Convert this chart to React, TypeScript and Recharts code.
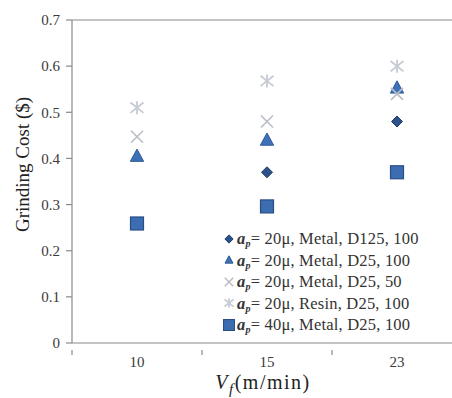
import {
  ScatterChart,
  Scatter,
  XAxis,
  YAxis,
  ReferenceLine,
  Label,
} from 'recharts';

const speeds = ['10', '15', '23'];
const yTicks = [0, 0.1, 0.2, 0.3, 0.4, 0.5, 0.6, 0.7];

const d125Metal100 = [0.26, 0.37, 0.48];
const d25Metal100 = [0.405, 0.44, 0.553];
const d25Metal50 = [0.447, 0.48, 0.54];
const d25Resin100 = [0.51, 0.568, 0.6];
const ap40Metal100 = [0.259, 0.296, 0.37];

const seriesNames = [
  ['20μ', 'Metal', 'D125', '100'],
  ['20μ', 'Metal', 'D25', '100'],
  ['20μ', 'Metal', 'D25', '50'],
  ['20μ', 'Resin', 'D25', '100'],
  ['40μ', 'Metal', 'D25', '100'],
];

const FONT = '"Liberation Serif", "Times New Roman", serif';
const AXIS = '#8a8a8a';
const TEXT = '#3a3a3a';

const toPoints = (vals: number[]) =>
  vals.map((v, i) => ({ x: i + 0.5, y: v }));

type ShapeProps = { cx?: number; cy?: number; k?: number };

function Diamond({ cx = 0, cy = 0, k = 1 }: ShapeProps) {
  const r = 5.5 * k;
  return (
    <path
      d={`M${cx},${cy - r}L${cx + r},${cy}L${cx},${cy + r}L${cx - r},${cy}Z`}
      fill="#2d5189"
      stroke="#1f3c6a"
      strokeWidth={1}
    />
  );
}

function Triangle({ cx = 0, cy = 0, k = 1 }: ShapeProps) {
  const r = 7 * k;
  return (
    <path
      d={`M${cx},${cy - r}L${cx + r * 0.95},${cy + r * 0.75}L${cx - r * 0.95},${cy + r * 0.75}Z`}
      fill="#3d72b8"
      stroke="#2d5a98"
      strokeWidth={1}
    />
  );
}

function Cross({ cx = 0, cy = 0, k = 1 }: ShapeProps) {
  const r = 6 * k;
  return (
    <g stroke="#b9bdc6" strokeWidth={1.6}>
      <line x1={cx - r} y1={cy - r} x2={cx + r} y2={cy + r} />
      <line x1={cx - r} y1={cy + r} x2={cx + r} y2={cy - r} />
    </g>
  );
}

function Asterisk({ cx = 0, cy = 0, k = 1 }: ShapeProps) {
  const r = 6.5 * k;
  return (
    <g stroke="#c6cad4" strokeWidth={1.8}>
      <line x1={cx - r} y1={cy - r * 0.8} x2={cx + r} y2={cy + r * 0.8} />
      <line x1={cx - r} y1={cy + r * 0.8} x2={cx + r} y2={cy - r * 0.8} />
      <line x1={cx} y1={cy - r} x2={cx} y2={cy + r} />
    </g>
  );
}

function Square({ cx = 0, cy = 0, k = 1 }: ShapeProps) {
  const r = 6.5 * k;
  return (
    <rect
      x={cx - r}
      y={cy - r}
      width={r * 2}
      height={r * 2}
      fill="#3c6db0"
      stroke="#2a4e86"
      strokeWidth={1.2}
    />
  );
}

const markers = [Diamond, Triangle, Cross, Asterisk, Square];
const legendScale = [0.75, 0.6, 0.7, 0.7, 0.85];

function XTick(props: any) {
  const { x, y, payload } = props;
  const v = payload.value as number;
  if (Number.isInteger(v)) {
    return <line x1={x} y1={y - 1} x2={x} y2={y + 4} stroke={AXIS} strokeWidth={1.2} />;
  }
  return (
    <text x={x} y={y + 16} textAnchor="middle" fontSize={15} fontFamily={FONT} fill={TEXT}>
      {speeds[Math.floor(v)]}
    </text>
  );
}

function XLabel(props: any) {
  const vb = props.viewBox;
  const cx = vb.x + vb.width / 2 - 4;
  return (
    <text
      x={cx}
      y={vb.y + 46}
      textAnchor="middle"
      fontSize={20}
      letterSpacing={1.5}
      fontFamily={FONT}
      fill="#222"
    >
      <tspan fontStyle="italic">V</tspan>
      <tspan fontStyle="italic" fontSize={15} dy={5}>f</tspan>
      <tspan dy={-5}>(m/min)</tspan>
    </text>
  );
}

function YLabel(props: any) {
  const vb = props.viewBox;
  const x = 22;
  const y = vb.y + vb.height / 2 - 17;
  return (
    <text
      x={x}
      y={y}
      transform={`rotate(-90 ${x} ${y})`}
      textAnchor="middle"
      dominantBaseline="central"
      fontSize={19}
      fontFamily={FONT}
      fill="#222"
    >
      Grinding Cost ($)
    </text>
  );
}

function LegendBox() {
  return (
    <div
      style={{
        position: 'absolute',
        left: 223,
        top: 228,
        fontFamily: FONT,
        fontSize: 16.5,
        letterSpacing: 0.2,
        color: '#333',
      }}
    >
      {seriesNames.map((n, i) => {
        const M = markers[i];
        return (
          <div
            key={i}
            style={{
              display: 'flex',
              alignItems: 'center',
              whiteSpace: 'nowrap',
              height: 21.5,
              lineHeight: '21.5px',
            }}
          >
            <svg width={12} height={12} style={{ marginRight: 2 }}>
              <M cx={6} cy={6} k={legendScale[i]} />
            </svg>
            <span>
              <b><i>a</i></b>
              <sub
                style={{
                  fontSize: 10,
                  fontStyle: 'italic',
                  fontWeight: 'bold',
                  lineHeight: 0,
                  verticalAlign: '-3px',
                }}
              >
                p
              </sub>
              {`= ${n[0]}, ${n[1]}, ${n[2]}, ${n[3]}`}
            </span>
          </div>
        );
      })}
    </div>
  );
}

export default function App() {
  const all = [d125Metal100, d25Metal100, d25Metal50, d25Resin100, ap40Metal100];
  return (
    <div
      style={{
        position: 'absolute',
        left: 0,
        top: 0,
        width: 452,
        height: 398,
        overflow: 'hidden',
        background: '#fff',
      }}
    >
      <ScatterChart width={470} height={398} margin={{ top: 20, right: 8, bottom: 0, left: 0 }}>
        <XAxis
          type="number"
          dataKey="x"
          domain={[0, 3]}
          ticks={[0, 0.5, 1, 1.5, 2, 2.5, 3]}
          tick={<XTick />}
          tickLine={false}
          height={55}
          stroke={AXIS}
          strokeWidth={1.2}
        >
          <Label content={<XLabel />} />
        </XAxis>
        <YAxis
          type="number"
          dataKey="y"
          domain={[0, 0.7]}
          ticks={yTicks}
          width={72}
          tickSize={6}
          tickMargin={6}
          tickFormatter={(v: number) => (v === 0 ? '0' : v.toFixed(1))}
          tick={{ fontSize: 15, fontFamily: FONT, fill: TEXT }}
          stroke={AXIS}
          strokeWidth={1.2}
        >
          <Label content={<YLabel />} />
        </YAxis>
        <ReferenceLine y={0.7} stroke={AXIS} strokeWidth={1.2} />
        {all.map((vals, i) => (
          <Scatter
            key={i}
            data={toPoints(vals)}
            shape={markers[i] as any}
            isAnimationActive={false}
          />
        ))}
      </ScatterChart>
      <LegendBox />
    </div>
  );
}
